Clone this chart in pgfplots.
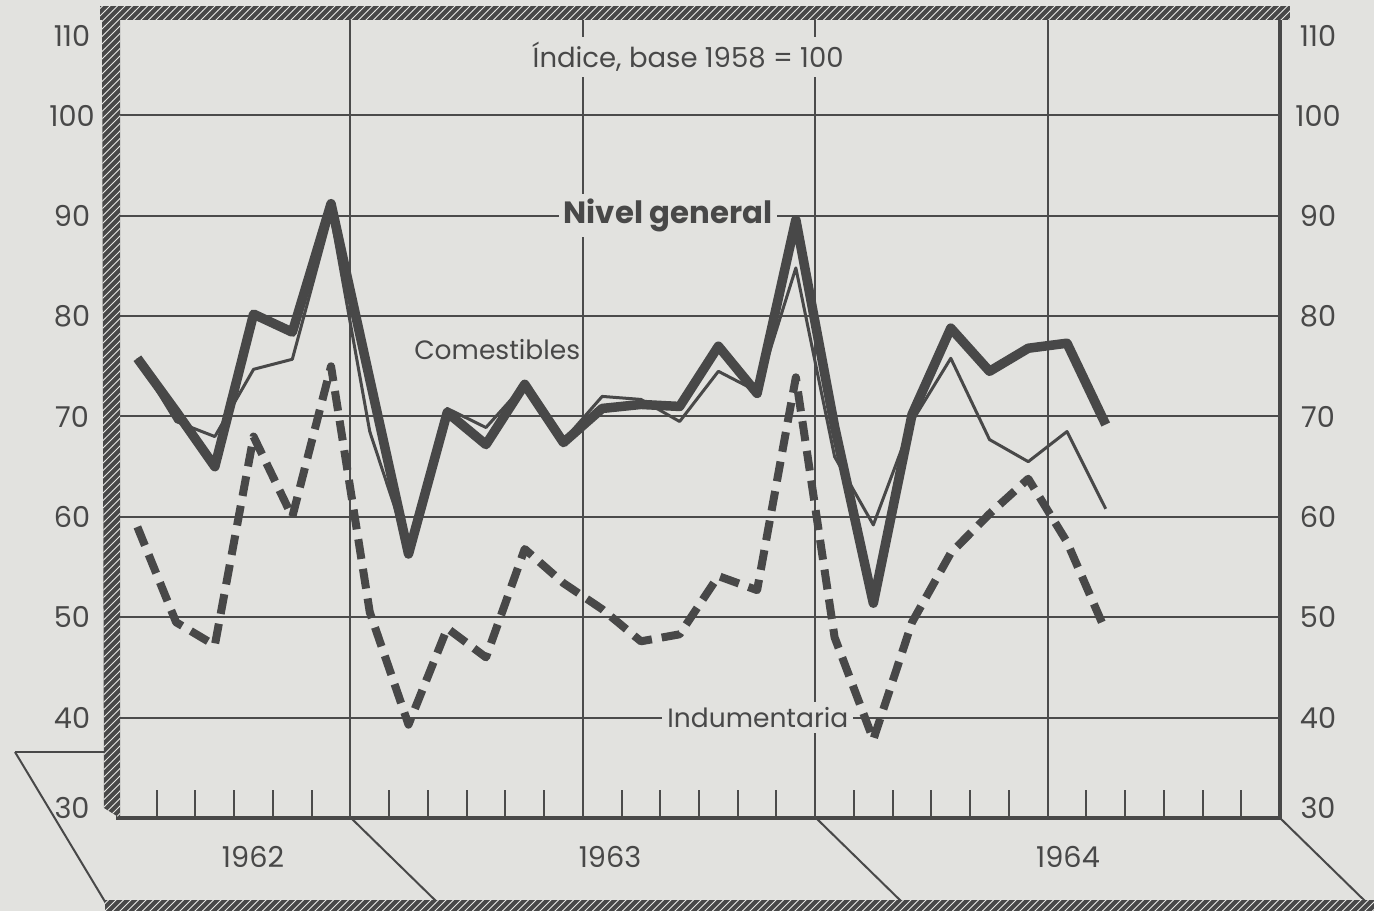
\documentclass[border=0pt]{standalone}
\usepackage{fontspec}
\setmainfont{Poppins}
\usepackage{pgfplots}
\pgfplotsset{compat=1.18}
\usetikzlibrary{patterns}
\definecolor{bg}{RGB}{226,226,223}
\definecolor{ink}{RGB}{72,72,72}
\definecolor{gridc}{RGB}{75,75,75}
\begin{document}
\begin{tikzpicture}
\begin{scope}[x=0.4pt,y=0.4pt]
\useasboundingbox (0,0) rectangle (1374,911);
\fill[bg] (0,0) rectangle (1374,911);
\draw[ink, line width=0.8pt] (15,159) -- (110,159);
\draw[ink, line width=0.8pt] (15,159) -- (107,6);
\draw[ink, line width=0.8pt] (351,93) -- (440,6);
\draw[ink, line width=0.8pt] (816,93) -- (905,6);
\draw[ink, line width=0.8pt] (1280,93) -- (1369,6);
\fill[ink] (105,0) rectangle (1374,11);
\fill[pattern=north east lines, pattern color=bg!80] (105,0) rectangle (1374,11);
\end{scope}
\begin{axis}[
  at={(47.2pt,37.2pt)}, anchor=south west, scale only axis,
  width=464.8pt, height=321.2pt,
  xmin=0, xmax=30, ymin=30, ymax=110,
  xtick={1,2,3,4,5,7,8,9,10,11,13,14,15,16,17,19,20,21,22,23,25,26,27,28,29},
  xticklabels={}, xtick pos=bottom, tick align=inside, major tick length=11pt,
  ytick=\empty,
  extra x ticks={6,12,18,24}, extra x tick labels={},
  extra x tick style={grid=major, major tick length=0pt},
  extra y ticks={40,50,60,70,80,90,100}, extra y tick labels={},
  extra y tick style={grid=major, major tick length=0pt},
  major grid style={line width=0.8pt, color=gridc},
  every tick/.style={line width=0.8pt, color=gridc},
  axis line style={line width=1.4pt, color=ink},
  clip=false,
]
\addplot[ink, line width=3.8pt, line join=round] table {
0.5 75.8
1.5 70.5
2.5 65.0
3.5 80.2
4.5 78.4
5.5 91.2
6.5 73.7
7.5 56.3
8.5 70.4
9.5 67.2
10.5 73.2
11.5 67.4
12.5 70.8
13.5 71.2
14.5 71.0
15.5 77.0
16.5 72.3
17.5 89.6
18.5 69.0
19.5 51.4
20.5 70.2
21.5 78.8
22.5 74.5
23.5 76.8
24.5 77.3
25.5 69.2
};
\addplot[ink, line width=1.2pt, line join=round] table {
0.5 75.8
1.5 69.5
2.5 68.0
3.5 74.7
4.5 75.7
5.5 90.0
6.5 68.5
7.5 56.8
8.5 70.8
9.5 68.9
10.5 73.2
11.5 67.6
12.5 72.0
13.5 71.7
14.5 69.5
15.5 74.5
16.5 72.5
17.5 84.8
18.5 66.0
19.5 59.2
20.5 69.5
21.5 75.8
22.5 67.7
23.5 65.5
24.5 68.5
25.5 60.8
};
\addplot[ink, line width=3.2pt, line join=round, dash pattern=on 8pt off 4pt] table {
0.5 59.0
1.5 49.5
2.5 47.2
3.5 68.0
4.5 60.0
5.5 75.0
6.5 50.5
7.5 39.3
8.5 48.9
9.5 46.0
10.5 56.8
11.5 53.4
12.5 50.8
13.5 47.6
14.5 48.3
15.5 54.1
16.5 52.7
17.5 73.9
18.5 48.0
19.5 37.8
20.5 49.5
21.5 56.4
22.5 60.3
23.5 63.8
24.5 57.5
25.5 48.6
};
\node[fill=bg, inner sep=2pt, text=ink, font=\fontsize{11}{13}\selectfont] at (axis cs:14.72,105.8) {Índice, base 1958 = 100};
\node[fill=bg, inner sep=2pt, text=ink, font=\bfseries\fontsize{12.3}{14}\selectfont] at (axis cs:14.2,90) {Nivel general};
\node[text=ink, font=\fontsize{10.6}{13}\selectfont] at (axis cs:9.79,76.7) {Comestibles};
\node[fill=bg, inner sep=2pt, text=ink, font=\fontsize{10.6}{13}\selectfont] at (axis cs:16.52,40) {Indumentaria};
\end{axis}
\begin{scope}[x=0.4pt,y=0.4pt]
\fill[ink] (102,899) -- (120,899) -- (120,93) -- (104,103) -- cycle;
\fill[pattern=north east lines, pattern color=bg!80] (102,899) -- (120,899) -- (120,93) -- (104,103) -- cycle;
\fill[ink] (100,891) rectangle (1290,905);
\fill[pattern=north east lines, pattern color=bg!80] (100,891) rectangle (1290,905);
\foreach \yy/\p in {875/110,795/100,695/90,595/80,494/70,394/60,294/50,193/40,103/30} {
  \node[text=ink, font=\fontsize{11.5}{13}\selectfont] at (72,\yy) {\p};
  \node[text=ink, font=\fontsize{11.5}{13}\selectfont] at (1318,\yy) {\p};
}
\node[text=ink, font=\fontsize{11.5}{13}\selectfont] at (253,54) {1962};
\node[text=ink, font=\fontsize{11.5}{13}\selectfont] at (610,54) {1963};
\node[text=ink, font=\fontsize{11.5}{13}\selectfont] at (1068,54) {1964};
\end{scope}
\end{tikzpicture}
\end{document}
